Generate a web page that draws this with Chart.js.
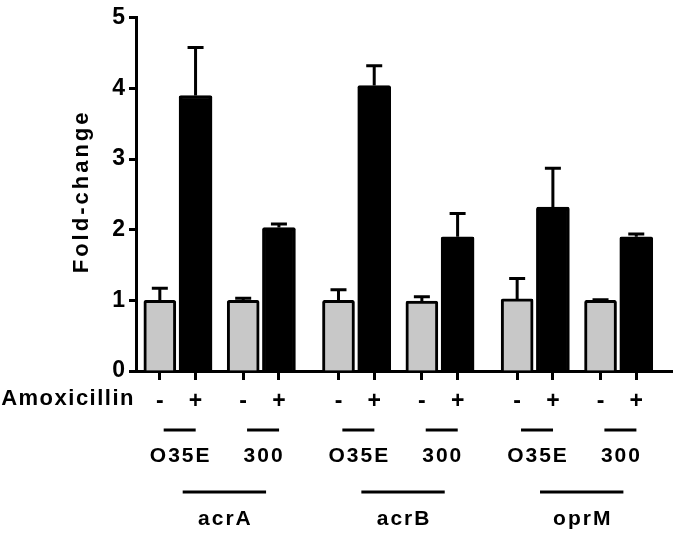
<!DOCTYPE html>
<html>
<head>
<meta charset="utf-8">
<script src="https://cdn.jsdelivr.net/npm/chart.js@4.4.1/dist/chart.umd.min.js"></script>
<style>
  body { margin: 0; background: #fff; }
  #wrap { width: 680px; height: 533px; }
</style>
</head>
<body>
<div id="wrap"><canvas id="chart"></canvas></div>
<script>
var genes = ['acrA', 'acrB', 'oprM'];
var strains = ['O35E', '300'];
var amoxLabels = ['-', '+'];
// order: acrA O35E, acrA 300, acrB O35E, acrB 300, oprM O35E, oprM 300
var minusVals = [1.00, 1.00, 1.00, 0.99, 1.02, 1.00];
var minusErr  = [0.17, 0.03, 0.15, 0.06, 0.29, 0.01];
var plusVals  = [3.90, 2.03, 4.04, 1.90, 2.32, 1.90];
var plusErr   = [0.68, 0.05, 0.28, 0.33, 0.55, 0.04];
var yTicks = [0, 1, 2, 3, 4, 5];

var FONT = '"Liberation Sans", Arial, sans-serif';

// category slots, empty labels are just spacing
var labels = [];
var minusData = [], plusData = [], minusE = [], plusE = [];
var pairs = [];

function addSlot(lab, m, p, me, pe) {
  labels.push(lab);
  minusData.push(m); plusData.push(p);
  minusE.push(me); plusE.push(pe);
  return labels.length - 1;
}
function addGap(n) {
  for (var i = 0; i < n; i++) addSlot('', null, null, null, null);
}

addGap(2);
var k = 0;
genes.forEach(function(g, gi) {
  if (gi > 0) addGap(4);
  strains.forEach(function(s, si) {
    if (si > 0) addGap(3);
    var a = addSlot(amoxLabels[0], minusVals[k], null, minusErr[k], null);
    addGap(2);
    var b = addSlot(amoxLabels[1], null, plusVals[k], null, plusErr[k]);
    pairs.push({ gene: gi, strain: s, a: a, b: b });
    k++;
  });
});
addGap(3);

var errorBars = {
  id: 'errorBars',
  afterDatasetsDraw: function(chart) {
    var ctx = chart.ctx, y = chart.scales.y;
    ctx.save();
    ctx.strokeStyle = '#000';
    ctx.lineWidth = 3;
    [minusE, plusE].forEach(function(errs, di) {
      var meta = chart.getDatasetMeta(di);
      var vals = chart.data.datasets[di].data;
      meta.data.forEach(function(bar, i) {
        if (vals[i] == null || !errs[i]) return;
        var top = y.getPixelForValue(vals[i] + errs[i]);
        ctx.beginPath();
        ctx.moveTo(bar.x, bar.y);
        ctx.lineTo(bar.x, top);
        ctx.moveTo(bar.x - 8, top);
        ctx.lineTo(bar.x + 8, top);
        ctx.stroke();
      });
    });
    ctx.restore();
  }
};

var groupLabels = {
  id: 'groupLabels',
  afterDraw: function(chart) {
    var ctx = chart.ctx, x = chart.scales.x, area = chart.chartArea;
    ctx.save();
    ctx.fillStyle = '#000';
    ctx.strokeStyle = '#000';
    ctx.lineWidth = 3;
    ctx.textBaseline = 'middle';

    // y title
    ctx.save();
    ctx.font = 'bold 22px ' + FONT;
    ctx.letterSpacing = '3px';
    ctx.textAlign = 'center';
    ctx.translate(82, (area.top + area.bottom) / 2 - 3);
    ctx.rotate(-Math.PI / 2);
    ctx.fillText('Fold-change', 0, 0);
    ctx.restore();

    ctx.font = 'bold 22px ' + FONT;
    ctx.letterSpacing = '1.5px';
    ctx.textAlign = 'right';
    ctx.fillText('Amoxicillin', area.left - 1, area.bottom + 28);

    ctx.font = 'bold 21px ' + FONT;
    ctx.letterSpacing = '2px';
    ctx.textAlign = 'center';
    var centers = [];
    pairs.forEach(function(p) {
      var cx = (x.getPixelForValue(p.a) + x.getPixelForValue(p.b)) / 2 + 2;
      centers.push(cx);
      ctx.beginPath();
      ctx.moveTo(cx - 16, area.bottom + 59);
      ctx.lineTo(cx + 16, area.bottom + 59);
      ctx.stroke();
      ctx.fillText(p.strain, cx + 1, area.bottom + 85);
    });
    genes.forEach(function(g, gi) {
      var x1 = centers[gi * 2] + 3, x2 = centers[gi * 2 + 1] + 3;
      ctx.beginPath();
      ctx.moveTo(x1, area.bottom + 121);
      ctx.lineTo(x2, area.bottom + 121);
      ctx.stroke();
      ctx.fillText(g, (x1 + x2) / 2 + 1, area.bottom + 148);
    });
    ctx.restore();
  }
};

new Chart(document.getElementById('chart'), {
  type: 'bar',
  data: {
    labels: labels,
    datasets: [{
      label: 'minus',
      data: minusData,
      backgroundColor: '#c8c8c8',
      borderColor: '#000',
      borderWidth: 3,
      borderRadius: 2,
      barThickness: 32,
      grouped: false
    }, {
      label: 'plus',
      data: plusData,
      backgroundColor: '#000',
      borderColor: '#000',
      borderWidth: 3,
      borderRadius: 2,
      barThickness: 33,
      grouped: false
    }]
  },
  options: {
    responsive: true,
    maintainAspectRatio: false,
    animation: false,
    layout: { padding: { top: 11, right: 2, left: 0, bottom: 0 } },
    plugins: {
      legend: { display: false },
      tooltip: { enabled: false }
    },
    scales: {
      x: {
        offset: false,
        afterFit: function(s) { s.height = 162; },
        grid: {
          offset: false,
          drawOnChartArea: false,
          tickLength: 9,
          tickWidth: 3,
          tickColor: function(c) { return c.tick && c.tick.label ? '#000' : 'rgba(0,0,0,0)'; }
        },
        border: { color: '#000', width: 3 },
        ticks: {
          autoSkip: false,
          maxRotation: 0,
          minRotation: 0,
          padding: 8,
          color: '#000',
          font: { family: FONT, size: 23, weight: 'bold' }
        }
      },
      y: {
        min: yTicks[0],
        max: yTicks[yTicks.length - 1],
        afterFit: function(s) { s.width = 136; },
        afterBuildTicks: function(s) { s.ticks = yTicks.map(function(v) { return { value: v }; }); },
        grid: {
          drawOnChartArea: false,
          tickLength: 7,
          tickWidth: 3,
          tickColor: '#000'
        },
        border: { color: '#000', width: 3 },
        ticks: {
          padding: 4,
          color: '#000',
          font: { family: FONT, size: 23, weight: 'bold' }
        }
      }
    }
  },
  plugins: [errorBars, groupLabels]
});
</script>
</body>
</html>
